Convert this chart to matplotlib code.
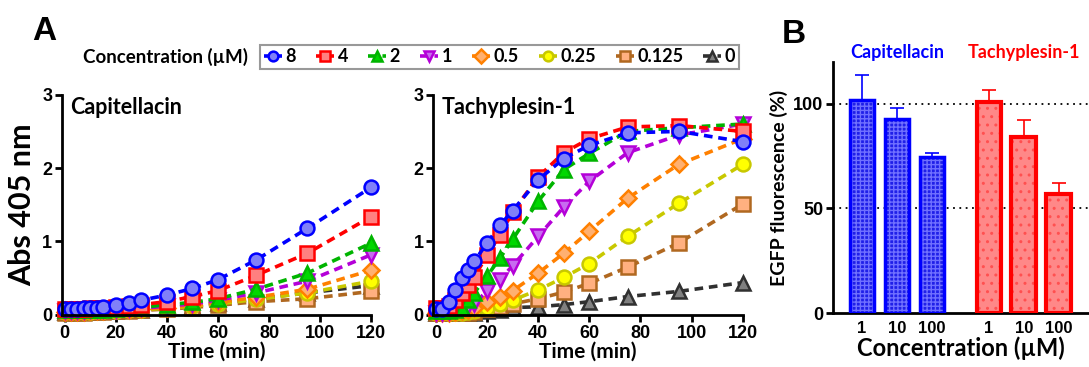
import numpy as np
import matplotlib
matplotlib.use("Agg")
import matplotlib.pyplot as plt

# ---- data ----
time_min = [0, 2.5, 5, 7.5, 10, 12.5, 15, 20, 25, 30, 40, 50, 60, 75, 95, 120]
conc_labels = ['8', '4', '2', '1', '0.5', '0.25', '0.125', '0']

capitellacin = {
    '8':     [0.08, 0.08, 0.08, 0.09, 0.09, 0.10, 0.11, 0.13, 0.16, 0.20, 0.27, 0.36, 0.48, 0.75, 1.18, 1.74],
    '4':     [0.08, 0.08, 0.08, 0.08, 0.09, 0.09, 0.10, 0.11, 0.12, 0.14, 0.18, 0.25, 0.33, 0.54, 0.84, 1.34],
    '2':     [0.06, 0.06, 0.06, 0.06, 0.07, 0.07, 0.07, 0.08, 0.09, 0.10, 0.14, 0.17, 0.22, 0.35, 0.57, 0.98],
    '1':     [0.05, 0.05, 0.05, 0.05, 0.06, 0.06, 0.06, 0.07, 0.08, 0.09, 0.12, 0.15, 0.20, 0.30, 0.46, 0.82],
    '0.5':   [0.04, 0.04, 0.04, 0.04, 0.05, 0.05, 0.05, 0.06, 0.07, 0.08, 0.10, 0.13, 0.17, 0.24, 0.35, 0.61],
    '0.25':  [0.04, 0.04, 0.04, 0.04, 0.04, 0.05, 0.05, 0.05, 0.06, 0.07, 0.09, 0.12, 0.15, 0.21, 0.30, 0.46],
    '0.125': [0.03, 0.03, 0.03, 0.03, 0.04, 0.04, 0.04, 0.05, 0.05, 0.06, 0.08, 0.10, 0.13, 0.18, 0.22, 0.32],
    '0':     [0.04, 0.04, 0.04, 0.04, 0.04, 0.05, 0.05, 0.05, 0.06, 0.07, 0.10, 0.12, 0.16, 0.22, 0.30, 0.40],
}

tachyplesin = {
    '8':     [0.08, 0.08, 0.18, 0.34, 0.50, 0.61, 0.73, 0.98, 1.22, 1.42, 1.84, 2.13, 2.31, 2.48, 2.50, 2.36],
    '4':     [0.10, 0.10, 0.12, 0.20, 0.30, 0.41, 0.52, 0.81, 1.09, 1.40, 1.88, 2.21, 2.40, 2.56, 2.58, 2.50],
    '2':     [0.05, 0.05, 0.05, 0.07, 0.10, 0.20, 0.30, 0.53, 0.77, 1.03, 1.55, 1.98, 2.20, 2.50, 2.55, 2.60],
    '1':     [0.03, 0.03, 0.04, 0.06, 0.10, 0.12, 0.15, 0.33, 0.48, 0.67, 1.07, 1.47, 1.82, 2.21, 2.45, 2.60],
    '0.5':   [0.02, 0.02, 0.03, 0.04, 0.05, 0.07, 0.10, 0.17, 0.25, 0.33, 0.57, 0.84, 1.14, 1.59, 2.05, 2.40],
    '0.25':  [0.02, 0.02, 0.02, 0.03, 0.03, 0.04, 0.05, 0.10, 0.15, 0.20, 0.34, 0.51, 0.70, 1.07, 1.52, 2.05],
    '0.125': [0.02, 0.02, 0.02, 0.02, 0.03, 0.03, 0.04, 0.08, 0.11, 0.15, 0.22, 0.31, 0.43, 0.65, 0.98, 1.51],
    '0':     [0.02, 0.02, 0.02, 0.02, 0.03, 0.03, 0.03, 0.05, 0.07, 0.10, 0.11, 0.14, 0.18, 0.25, 0.32, 0.44],
}

bar_groups = ['Capitellacin', 'Tachyplesin-1']
bar_conc = ['1', '10', '100']
cap_egfp = [102, 93, 74.5]
cap_err = [12, 5, 2.2]
tac_egfp = [101, 84, 57]
tac_err = [5.4, 8.4, 5.4]

# ---- styles ----
styles = {
    '8':     dict(marker='o', color='#0000ff', mfc='#8080f8'),
    '4':     dict(marker='s', color='#ff0000', mfc='#ff8080'),
    '2':     dict(marker='^', color='#00b400', mfc='#00d800'),
    '1':     dict(marker='v', color='#b400d8', mfc='#c86cf0'),
    '0.5':   dict(marker='D', color='#ff8000', mfc='#ffb070', ms=8.5),
    '0.25':  dict(marker='o', color='#c8c800', mfc='#ffff00'),
    '0.125': dict(marker='s', color='#b06820', mfc='#ffb080'),
    '0':     dict(marker='^', color='#303030', mfc='#808080'),
}

TXT = 'Lato'
NUM = 'Liberation Sans'

fig = plt.figure(figsize=(10.89, 3.67), dpi=100)


def style_axis(ax):
    for s in ['top', 'right']:
        ax.spines[s].set_visible(False)
    for s in ['left', 'bottom']:
        ax.spines[s].set_linewidth(2)
    ax.tick_params(width=2, length=5, direction='out', pad=2)
    for lab in ax.get_xticklabels() + ax.get_yticklabels():
        lab.set_fontfamily(NUM)
        lab.set_fontweight('bold')
        lab.set_fontsize(13)


def kinetics(ax, data, title, ylabel=None):
    handles = []
    for c in conc_labels[::-1]:
        st = dict(styles[c])
        ms = st.pop('ms', 10)
        h, = ax.plot(time_min, data[c], linestyle=(0, (2.4, 1.6)), lw=2.6,
                     ms=ms, mew=1.8, clip_on=False, label=c, **st)
        handles.append(h)
    ax.set_xlim(-1, 120)
    ax.set_ylim(0, 3)
    ax.set_xticks(range(0, 121, 20))
    ax.set_yticks([0, 1, 2, 3])
    style_axis(ax)
    ax.set_xlabel('Time (min)', fontfamily=TXT, fontweight='bold', fontsize=15, labelpad=0)
    if ylabel:
        ax.set_ylabel(ylabel, fontfamily=TXT, fontweight='bold', fontsize=22, labelpad=4)
    ax.text(0.025, 0.99, title, transform=ax.transAxes, ha='left', va='top',
            fontfamily=TXT, fontweight='bold', fontsize=15.5)
    return handles[::-1]


ax1 = fig.add_axes([0.057, 0.142, 0.284, 0.600])
ax2 = fig.add_axes([0.398, 0.142, 0.284, 0.600])
handles = kinetics(ax1, capitellacin, 'Capitellacin', 'Abs 405 nm')
kinetics(ax2, tachyplesin, 'Tachyplesin-1')

leg = fig.legend(handles=handles, loc='center left', bbox_to_anchor=(0.239, 0.845),
                 ncol=8, frameon=True, fancybox=False, handlelength=1.0,
                 handletextpad=0.2, columnspacing=1.1, borderpad=0.2,
                 borderaxespad=0, prop={'family': TXT, 'weight': 'bold', 'size': 13})
leg.get_frame().set_edgecolor('#808080')
leg.get_frame().set_linewidth(1.5)
for h in leg.legend_handles:
    h.set_markersize(7)
fig.text(0.076, 0.845, 'Concentration (\u00b5M)', ha='left', va='center',
         fontfamily=TXT, fontweight='bold', fontsize=13.5)
fig.text(0.03, 0.915, 'A', fontfamily=NUM, fontweight='bold', fontsize=24, va='center')
fig.text(0.718, 0.905, 'B', fontfamily=NUM, fontweight='bold', fontsize=24, va='center')

# ---- panel B ----
ax3 = fig.add_axes([0.765, 0.147, 0.235, 0.684])
x_cap = np.arange(3)
x_tac = np.arange(3) + 3.63
plt.rcParams['hatch.linewidth'] = 1.0
ax3.bar(x_cap, cap_egfp, width=0.7, color='#2020e8', edgecolor='#7070ff',
        hatch='++++', lw=0, zorder=2)
ax3.bar(x_cap, cap_egfp, width=0.7, fill=False, edgecolor='#0000ff', lw=2.5, zorder=3)
ax3.bar(x_tac, tac_egfp, width=0.7, color='#ff8888', edgecolor='#ff5050',
        hatch='..', lw=0, zorder=2)
ax3.bar(x_tac, tac_egfp, width=0.7, fill=False, edgecolor='#ff0000', lw=3, zorder=3)
ax3.errorbar(x_cap, cap_egfp, yerr=[np.zeros(3), cap_err], fmt='none',
             ecolor='#0000ff', elinewidth=1.2, capsize=5, capthick=1.2, zorder=1)
ax3.errorbar(x_tac, tac_egfp, yerr=[np.zeros(3), tac_err], fmt='none',
             ecolor='#ff0000', elinewidth=1.2, capsize=5, capthick=1.2, zorder=1)
for yv in [50, 100]:
    ax3.axhline(yv, color='black', ls=(0, (1, 2.5)), lw=1.3, zorder=0)
ax3.set_xlim(-0.83, 6.5)
ax3.set_ylim(0, 120)
ax3.set_yticks([0, 50, 100])
ax3.set_xticks(list(x_cap) + list(x_tac))
ax3.set_xticklabels(bar_conc + bar_conc)
style_axis(ax3)
ax3.tick_params(axis='x', length=0, pad=6)
for lab in ax3.get_xticklabels():
    lab.set_fontsize(12)
ax3.set_ylabel('EGFP fluorescence (%)', fontfamily=TXT, fontweight='bold', fontsize=14, labelpad=4)
ax3.set_xlabel('Concentration (\u00b5M)', fontfamily=TXT, fontweight='bold', fontsize=17, labelpad=0)
ax3.text(x_cap[1], 120.5, bar_groups[0], color='#0000ff', ha='center', va='bottom',
         fontfamily=TXT, fontweight='bold', fontsize=13, clip_on=False)
ax3.text(x_tac[1], 120.5, bar_groups[1], color='#ff0000', ha='center', va='bottom',
         fontfamily=TXT, fontweight='bold', fontsize=13, clip_on=False)

fig.savefig('out.png', dpi=100)
